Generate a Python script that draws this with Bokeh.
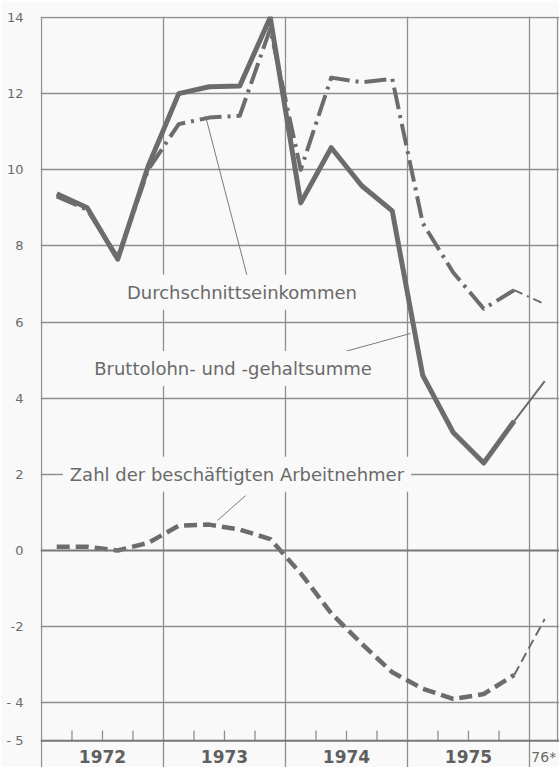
from bokeh.plotting import figure
from bokeh.models import FixedTicker, Span, Range1d
from bokeh.core.properties import value
from bokeh.embed import file_html
from bokeh.resources import INLINE

# ---------------- data ----------------
years = [1972, 1973, 1974, 1975]
quarter_names = ["I", "II", "III", "IV"]
quarters = [f"{y} {q}" for y in years for q in quarter_names]
forecast_quarter = "1976 I"

# Bruttolohn- und -gehaltsumme (change vs. previous year, %)
brutto = [9.37, 9.0, 7.65, 10.1,
          12.0, 12.18, 12.2, 14.0,
          9.13, 10.58, 9.58, 8.92,
          4.6, 3.1, 2.3, 3.4]
brutto_forecast = 4.45

# Durchschnittseinkommen
durch = [9.3, 8.95, 7.7, 10.0,
         11.2, 11.37, 11.42, 13.7,
         10.0, 12.42, 12.3, 12.39,
         8.6, 7.3, 6.35, 6.84]
durch_forecast = 6.47

# Zahl der beschaeftigten Arbeitnehmer
zahl = [0.1, 0.1, 0.0, 0.2,
        0.65, 0.68, 0.55, 0.3,
        -0.6, -1.65, -2.45, -3.2,
        -3.63, -3.9, -3.77, -3.27]
zahl_forecast = -1.8

y_ticks = [14, 12, 10, 8, 6, 4, 2, 0, -2, -4, -5]
y_tick_labels = {14: "14", 12: "12", 10: "10", 8: "8", 6: "6", 4: "4", 2: "2",
                 0: "0", -2: "-2", -4: "- 4", -5: "- 5"}
year_labels = ["1972", "1973", "1974", "1975"]
forecast_label = "76*"

series_labels = ["Durchschnittseinkommen", "Bruttolohn- und -gehaltsumme",
                 "Zahl der beschäftigten Arbeitnehmer"]

# ---------------- helpers ----------------
def qpos(label):
    y, q = label.split()
    return int(y) + (quarter_names.index(q) + 0.5) / 4.0

xq = [qpos(q) for q in quarters]
xf = qpos(forecast_quarter)

BG = "#f8f9f8"
LINE = "#6c6c6c"
GRID = "#8f8f8f"
TEXT = "#6a6a6a"
FONT = "DejaVu Sans"

X0, X1 = 1971.992, 1976.246
Y0, Y1 = -5.70, 14.026

p = figure(width=559, height=767, x_range=Range1d(X0, X1), y_range=Range1d(Y0, Y1),
           output_backend="svg", toolbar_location=None, x_axis_location=None,
           min_border_left=40, min_border_right=0, min_border_top=16, min_border_bottom=0)
p.background_fill_color = BG
p.border_fill_color = BG
p.outline_line_color = None

# y axis
ax = p.yaxis[0]
ax.ticker = FixedTicker(ticks=y_ticks)
ax.major_label_overrides = y_tick_labels
ax.axis_line_color = None
ax.major_tick_line_color = None
ax.minor_tick_line_color = None
ax.major_label_standoff = 11
ax.major_label_text_font = FONT
ax.major_label_text_font_size = "13px"
ax.major_label_text_color = TEXT

# grids
p.xgrid.ticker = FixedTicker(ticks=years + [years[-1] + 1])
p.ygrid.ticker = FixedTicker(ticks=[t for t in y_ticks if t not in (0, -5)])
for g in (p.xgrid[0], p.ygrid[0]):
    g.grid_line_color = GRID
    g.grid_line_width = 1.3

for yv in (0, -5):
    p.add_layout(Span(location=yv, dimension="width", line_color="#767676", line_width=2))

# right border of the grid
p.segment(x0=[X1 - 0.016], y0=[-5], x1=[X1 - 0.016], y1=[14], line_color=GRID, line_width=1.3)

# quarter ticks
qb = [y + k / 4.0 for y in years for k in (1, 2, 3)]
p.segment(x0=qb, y0=[-5] * len(qb), x1=qb, y1=[-4.73] * len(qb), line_color=GRID, line_width=1.3)

# series
p.line(xq, zahl, line_width=4.5, line_color=LINE, line_dash="13 6")
p.line([xq[-1], xf], [zahl[-1], zahl_forecast], line_width=2, line_color=LINE, line_dash="10 5")

p.line(xq, durch, line_width=4, line_color=LINE, line_dash="22 6 3 6", line_join="round")
p.line([xq[-1], xf], [durch[-1], durch_forecast], line_width=2, line_color=LINE, line_dash="9 5 2 5")

p.line(xq, brutto, line_width=5, line_color=LINE, line_join="round")
p.line([xq[-1], xf], [brutto[-1], brutto_forecast], line_width=2, line_color=LINE)

# leader lines
lead_x0 = [1973.344, 1974.311, 1973.672]
lead_y0 = [11.42, 5.07, 1.44]
lead_x1 = [1973.689, 1975.025, 1973.443]
lead_y1 = [7.17, 5.70, 0.79]
p.segment(x0=lead_x0, y0=lead_y0, x1=lead_x1, y1=lead_y1, line_color="#7a7a7a", line_width=1)

# series labels
p.text(x=[1973.643, 1973.570, 1973.602], y=[6.78, 4.78, 2.0], text=series_labels,
       text_font=value(FONT), text_font_size="18px", text_color=TEXT,
       text_align="center", text_baseline="middle",
       background_fill_color=BG, padding=7)

# year labels
p.text(x=[y + 0.5 for y in years], y=[-5.42] * len(years), text=year_labels,
       text_font=value(FONT), text_font_size="17px", text_font_style="bold",
       text_color="#5f5f5f", text_align="center", text_baseline="middle")
p.text(x=[years[-1] + 1.015], y=[-5.42], text=[forecast_label],
       text_font=value(FONT), text_font_size="14px", text_color=TEXT,
       text_align="left", text_baseline="middle")

open("out.html", "w").write(file_html(p, INLINE))
